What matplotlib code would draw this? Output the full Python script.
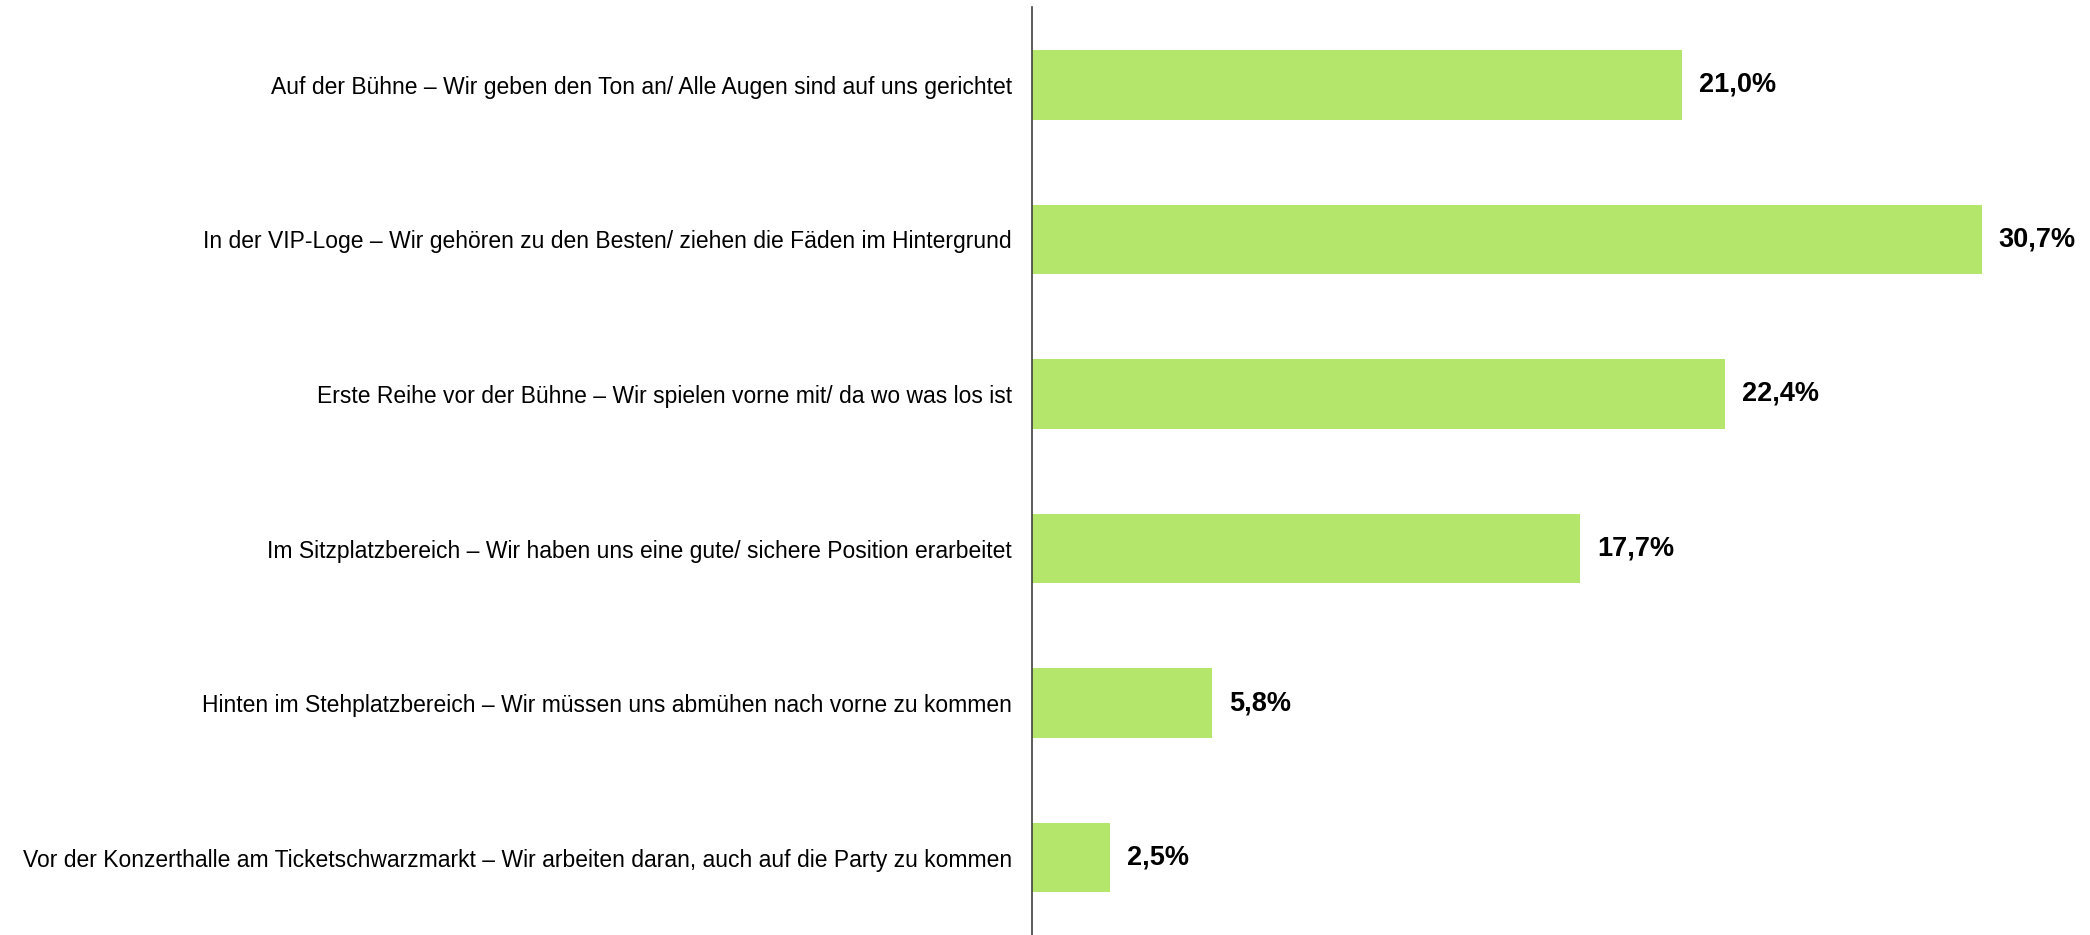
import matplotlib.pyplot as plt
import numpy as np

plt.rcParams['font.family'] = ['Liberation Sans', 'DejaVu Sans']

BAR_COLOR = "#b3e66a"

categories = [
    "Auf der Bühne – Wir geben den Ton an/ Alle Augen sind auf uns gerichtet",
    "In der VIP-Loge – Wir gehören zu den Besten/ ziehen die Fäden im Hintergrund",
    "Erste Reihe vor der Bühne – Wir spielen vorne mit/ da wo was los ist",
    "Im Sitzplatzbereich – Wir haben uns eine gute/ sichere Position erarbeitet",
    "Hinten im Stehplatzbereich – Wir müssen uns abmühen nach vorne zu kommen",
    "Vor der Konzerthalle am Ticketschwarzmarkt – Wir arbeiten daran, auch auf die Party zu kommen",
]
values = [21.0, 30.7, 22.4, 17.7, 5.8, 2.5]
value_labels = ["21,0%", "30,7%", "22,4%", "17,7%", "5,8%", "2,5%"]

fig = plt.figure(figsize=(20.9, 9.35), dpi=100)
ax = fig.add_axes([0.494, 0.0, 0.506, 0.992])

y = np.arange(len(categories))
ax.barh(y, values, height=0.45, color=BAR_COLOR)

# value labels right of each bar
for yi, v, lab in zip(y, values, value_labels):
    ax.text(v + 0.55, yi, lab, va='center', ha='left',
            fontsize=19.5, fontweight='bold', color='black')

ax.set_yticks(y)
ax.set_yticklabels(categories, fontsize=16.5)
ax.tick_params(axis='y', length=0, pad=15)
ax.set_xticks([])
ax.set_ylim(len(categories) - 0.5, -0.5)
ax.set_xlim(0, 34.2)

for s in ['top', 'right', 'bottom']:
    ax.spines[s].set_visible(False)
ax.spines['left'].set_color('#404040')
ax.spines['left'].set_linewidth(1.2)

fig.savefig("out.png", dpi=100)
